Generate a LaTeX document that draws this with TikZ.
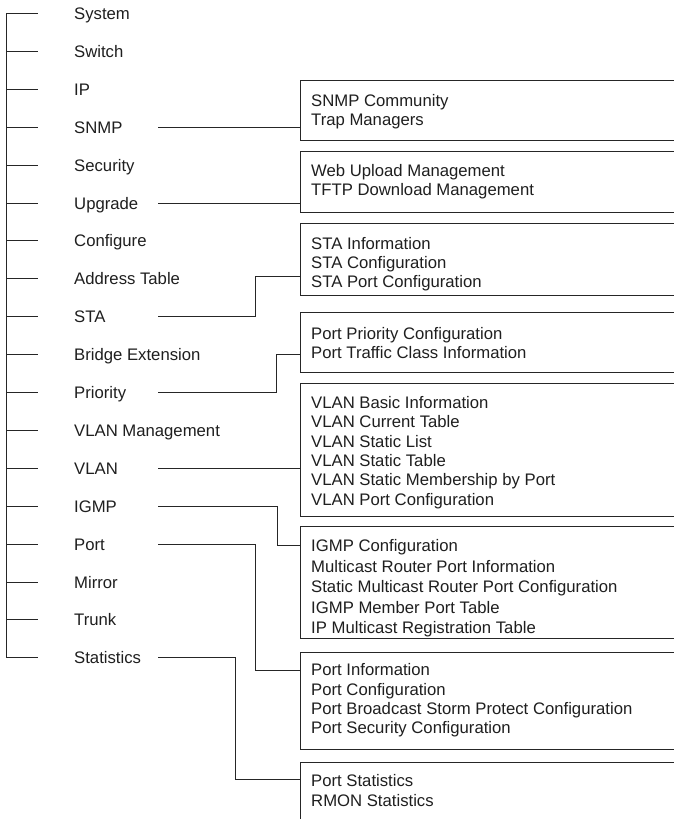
\documentclass[tikz,border=0pt]{standalone}
\usepackage{fontspec}
\setmainfont{Liberation Sans}
\begin{document}
\begin{tikzpicture}[x=1pt,y=-1pt,
  ln/.style={draw=black!85,line width=1pt},
  lab/.style={anchor=base west,inner sep=0pt,text=black!88,font=\fontsize{16.7}{19.3}\selectfont},
  frame/.style={draw=black!85,line width=1pt,rectangle,anchor=north west,minimum width=420pt,inner sep=0pt},
  btext/.style={anchor=west,inner sep=0pt,align=left,text=black!88,font=\fontsize{16.7}{19.3}\selectfont}]
\useasboundingbox (0,0) rectangle (674,819);
\clip (0,0) rectangle (674,819);
\fill[white] (0,0) rectangle (674,819);
\foreach \t [count=\i from 0] in {System,Switch,IP,SNMP,Security,Upgrade,Configure,Address Table,STA,Bridge Extension,Priority,VLAN Management,VLAN,IGMP,Port,Mirror,Trunk,Statistics} {
  \pgfmathsetmacro\yy{13.5+37.9*\i}
  \coordinate (t\i) at (6,\yy);
  \coordinate (c\i) at (158,\yy);
  \node[lab] (l\i) at (74,\yy+6) {\t};
  \draw[ln] (t\i) -- ++(32,0);
}
\draw[ln] (t0) -- (t17);
% box frames
\node[frame,minimum height=60pt] (snmp) at (300,80) {};
\node[frame,minimum height=61pt] (upg) at (300,151) {};
\node[frame,minimum height=72pt] (sta) at (300,223) {};
\node[frame,minimum height=60pt] (pri) at (300,312) {};
\node[frame,minimum height=133pt] (vlan) at (300,383) {};
\node[frame,minimum height=112pt] (igmp) at (300,526) {};
\node[frame,minimum height=97pt] (port) at (300,652) {};
\node[frame,minimum height=90pt] (stats) at (300,762) {};
% box texts
\node[btext] (snmpt) at (311,111.5) {SNMP Community\\Trap Managers};
\node[btext] (upgt) at (311,181.5) {Web Upload Management\\TFTP Download Management};
\node[btext] (stat) at (311,264) {STA Information\\STA Configuration\\STA Port Configuration};
\node[btext] (prit) at (311,343) {Port Priority Configuration\\Port Traffic Class Information};
\node[btext] (vlant) at (311,452.5) {VLAN Basic Information\\VLAN Current Table\\VLAN Static List\\VLAN Static Table\\VLAN Static Membership by Port\\VLAN Port Configuration};
\node[btext,font=\fontsize{16.7}{20.5}\selectfont] (igmpt) at (311,588.5) {IGMP Configuration\\Multicast Router Port Information\\Static Multicast Router Port Configuration\\IGMP Member Port Table\\IP Multicast Registration Table};
\node[btext] (portt) at (311,700.5) {Port Information\\Port Configuration\\Port Broadcast Storm Protect Configuration\\Port Security Configuration};
\node[btext] (statst) at (311,790.5) {Port Statistics\\RMON Statistics};
% connectors
\coordinate (b8) at (255,276);
\coordinate (b10) at (276,354);
\coordinate (b13) at (277,545);
\coordinate (b14) at (255,670);
\coordinate (b17) at (235,779);
\draw[ln] (c3) -- (snmp.west |- c3);
\draw[ln] (c5) -- (upg.west |- c5);
\draw[ln] (c8) -| (b8) -- (sta.west |- b8);
\draw[ln] (c10) -| (b10) -- (pri.west |- b10);
\draw[ln] (c12) -- (vlan.west |- c12);
\draw[ln] (c13) -| (b13) -- (igmp.west |- b13);
\draw[ln] (c14) -| (b14) -- (port.west |- b14);
\draw[ln] (c17) -| (b17) -- (stats.west |- b17);
\end{tikzpicture}
\end{document}
